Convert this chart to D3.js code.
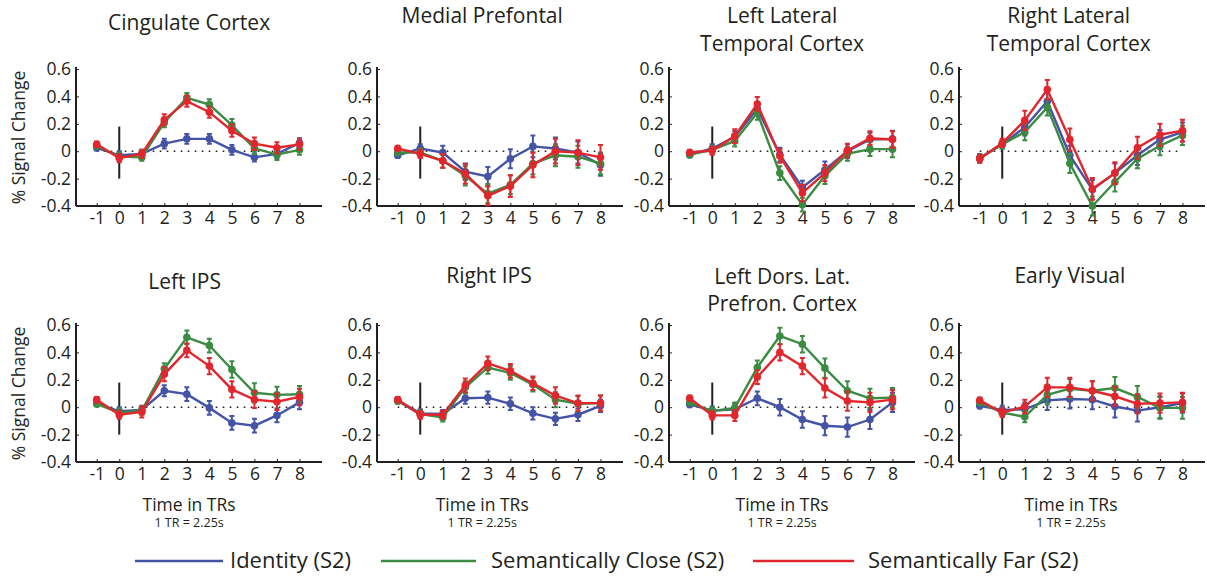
<!DOCTYPE html>
<html>
<head>
<meta charset="utf-8">
<script src="https://cdn.jsdelivr.net/npm/d3@7"></script>
<style>
  html, body { margin: 0; padding: 0; background: #fff; }
  svg { display: block; }
  text { font-family: "Open Sans", "Noto Sans", sans-serif; fill: #231f20; }
</style>
</head>
<body>
<svg id="chart" width="1207" height="580"></svg>
<script>
// Time points (in TRs) and axis ticks
const timePoints = [-1, 0, 1, 2, 3, 4, 5, 6, 7, 8];
const xTicks = [-1, 0, 1, 2, 3, 4, 5, 6, 7, 8];
const yTicks = [-0.4, -0.2, 0, 0.2, 0.4, 0.6];
const yTickLabels = ["-0.4", "-0.2", "0", "0.2", "0.4", "0.6"];

const seriesNames = ["Identity (S2)", "Semantically Close (S2)", "Semantically Far (S2)"];
const seriesColors = ["#4453a6", "#3b8b43", "#e1272d"];

// Region titles (multi-line titles split on "|")
const regionTitles = [
  "Cingulate Cortex", "Medial Prefontal", "Left Lateral|Temporal Cortex", "Right Lateral|Temporal Cortex",
  "Left IPS", "Right IPS", "Left Dors. Lat.|Prefron. Cortex", "Early Visual"
];

// % signal change per region: Identity / Close / Far, with error bars
const cingulateIdentity = [0.025, -0.03, -0.02, 0.055, 0.09, 0.09, 0.01, -0.045, -0.02, 0.06];
const cingulateClose    = [0.04, -0.04, -0.045, 0.21, 0.39, 0.34, 0.19, 0.02, -0.025, 0.01];
const cingulateFar      = [0.05, -0.05, -0.02, 0.23, 0.365, 0.285, 0.15, 0.055, 0.025, 0.05];
const cingulateIdentityErr = [0.02, 0.03, 0.03, 0.035, 0.035, 0.035, 0.035, 0.03, 0.03, 0.035];
const cingulateCloseErr    = [0.02, 0.03, 0.025, 0.035, 0.035, 0.04, 0.045, 0.04, 0.04, 0.035];
const cingulateFarErr      = [0.02, 0.03, 0.03, 0.04, 0.04, 0.04, 0.045, 0.045, 0.04, 0.04];

const medialIdentity = [-0.03, 0.02, -0.01, -0.15, -0.185, -0.055, 0.035, 0.02, -0.01, -0.1];
const medialClose    = [-0.01, -0.01, -0.07, -0.18, -0.31, -0.245, -0.09, -0.03, -0.04, -0.09];
const medialFar      = [0.02, -0.02, -0.07, -0.165, -0.325, -0.255, -0.1, 0.0, -0.01, -0.045];
const medialIdentityErr = [0.02, 0.03, 0.05, 0.06, 0.07, 0.07, 0.08, 0.08, 0.08, 0.08];
const medialCloseErr    = [0.02, 0.03, 0.05, 0.07, 0.07, 0.07, 0.08, 0.08, 0.08, 0.08];
const medialFarErr      = [0.02, 0.03, 0.05, 0.07, 0.07, 0.08, 0.09, 0.09, 0.09, 0.09];

const leftTemporalIdentity = [-0.025, 0.02, 0.105, 0.31, -0.025, -0.265, -0.135, 0.0, 0.085, 0.09];
const leftTemporalClose    = [-0.025, 0.01, 0.075, 0.28, -0.16, -0.39, -0.18, -0.02, 0.015, 0.015];
const leftTemporalFar      = [-0.01, 0.005, 0.11, 0.345, -0.035, -0.305, -0.16, 0.005, 0.095, 0.085];
const leftTemporalIdentityErr = [0.02, 0.03, 0.04, 0.05, 0.05, 0.05, 0.06, 0.05, 0.05, 0.06];
const leftTemporalCloseErr    = [0.02, 0.03, 0.04, 0.05, 0.05, 0.05, 0.06, 0.05, 0.05, 0.06];
const leftTemporalFarErr      = [0.02, 0.03, 0.05, 0.05, 0.05, 0.06, 0.06, 0.05, 0.05, 0.06];

const rightTemporalIdentity = [-0.05, 0.05, 0.175, 0.365, -0.03, -0.28, -0.16, -0.03, 0.085, 0.14];
const rightTemporalClose    = [-0.05, 0.05, 0.14, 0.32, -0.09, -0.4, -0.225, -0.055, 0.04, 0.115];
const rightTemporalFar      = [-0.055, 0.06, 0.225, 0.45, 0.085, -0.275, -0.16, 0.025, 0.12, 0.15];
const rightTemporalIdentityErr = [0.03, 0.03, 0.06, 0.06, 0.07, 0.07, 0.07, 0.07, 0.07, 0.07];
const rightTemporalCloseErr    = [0.03, 0.03, 0.06, 0.06, 0.07, 0.07, 0.07, 0.07, 0.07, 0.07];
const rightTemporalFarErr      = [0.03, 0.03, 0.07, 0.07, 0.08, 0.08, 0.08, 0.08, 0.08, 0.08];

const leftIpsIdentity = [0.03, -0.03, -0.02, 0.12, 0.095, -0.005, -0.115, -0.135, -0.06, 0.035];
const leftIpsClose    = [0.025, -0.04, -0.025, 0.28, 0.51, 0.45, 0.275, 0.105, 0.09, 0.095];
const leftIpsFar      = [0.055, -0.055, -0.035, 0.24, 0.415, 0.3, 0.13, 0.055, 0.04, 0.075];
const leftIpsIdentityErr = [0.02, 0.03, 0.03, 0.04, 0.05, 0.05, 0.05, 0.05, 0.05, 0.05];
const leftIpsCloseErr    = [0.02, 0.03, 0.03, 0.04, 0.05, 0.05, 0.06, 0.07, 0.06, 0.06];
const leftIpsFarErr      = [0.02, 0.03, 0.04, 0.05, 0.05, 0.06, 0.06, 0.06, 0.06, 0.06];

const rightIpsIdentity = [0.05, -0.045, -0.05, 0.065, 0.07, 0.025, -0.045, -0.085, -0.055, 0.01];
const rightIpsClose    = [0.045, -0.05, -0.075, 0.145, 0.29, 0.25, 0.165, 0.055, 0.025, 0.03];
const rightIpsFar      = [0.055, -0.055, -0.055, 0.16, 0.32, 0.265, 0.175, 0.085, 0.03, 0.03];
const rightIpsIdentityErr = [0.02, 0.03, 0.03, 0.04, 0.045, 0.045, 0.045, 0.045, 0.045, 0.045];
const rightIpsCloseErr    = [0.02, 0.03, 0.03, 0.045, 0.045, 0.05, 0.05, 0.055, 0.055, 0.055];
const rightIpsFarErr      = [0.02, 0.03, 0.03, 0.05, 0.05, 0.05, 0.05, 0.06, 0.055, 0.055];

const leftDlpfcIdentity = [0.02, -0.025, -0.015, 0.065, 0.0, -0.09, -0.135, -0.145, -0.09, 0.035];
const leftDlpfcClose    = [0.035, -0.03, -0.005, 0.29, 0.52, 0.46, 0.285, 0.12, 0.065, 0.07];
const leftDlpfcFar      = [0.065, -0.06, -0.06, 0.22, 0.4, 0.3, 0.14, 0.045, 0.035, 0.055];
const leftDlpfcIdentityErr = [0.02, 0.03, 0.04, 0.05, 0.06, 0.06, 0.07, 0.07, 0.07, 0.07];
const leftDlpfcCloseErr    = [0.02, 0.03, 0.04, 0.05, 0.06, 0.06, 0.07, 0.07, 0.07, 0.07];
const leftDlpfcFarErr      = [0.02, 0.03, 0.04, 0.05, 0.06, 0.06, 0.07, 0.07, 0.07, 0.07];

const earlyVisualIdentity = [0.01, -0.02, -0.015, 0.05, 0.06, 0.055, 0.005, -0.025, 0.0, 0.03];
const earlyVisualClose    = [0.035, -0.04, -0.07, 0.09, 0.135, 0.12, 0.14, 0.075, -0.005, -0.005];
const earlyVisualFar      = [0.05, -0.04, 0.005, 0.145, 0.145, 0.12, 0.08, 0.025, 0.03, 0.035];
const earlyVisualIdentityErr = [0.02, 0.03, 0.05, 0.07, 0.07, 0.07, 0.08, 0.08, 0.08, 0.07];
const earlyVisualCloseErr    = [0.02, 0.03, 0.04, 0.07, 0.07, 0.07, 0.08, 0.08, 0.08, 0.08];
const earlyVisualFarErr      = [0.02, 0.03, 0.05, 0.07, 0.07, 0.07, 0.07, 0.07, 0.07, 0.07];

const panelValues = [
  [cingulateIdentity, cingulateClose, cingulateFar],
  [medialIdentity, medialClose, medialFar],
  [leftTemporalIdentity, leftTemporalClose, leftTemporalFar],
  [rightTemporalIdentity, rightTemporalClose, rightTemporalFar],
  [leftIpsIdentity, leftIpsClose, leftIpsFar],
  [rightIpsIdentity, rightIpsClose, rightIpsFar],
  [leftDlpfcIdentity, leftDlpfcClose, leftDlpfcFar],
  [earlyVisualIdentity, earlyVisualClose, earlyVisualFar]
];
const panelErrors = [
  [cingulateIdentityErr, cingulateCloseErr, cingulateFarErr],
  [medialIdentityErr, medialCloseErr, medialFarErr],
  [leftTemporalIdentityErr, leftTemporalCloseErr, leftTemporalFarErr],
  [rightTemporalIdentityErr, rightTemporalCloseErr, rightTemporalFarErr],
  [leftIpsIdentityErr, leftIpsCloseErr, leftIpsFarErr],
  [rightIpsIdentityErr, rightIpsCloseErr, rightIpsFarErr],
  [leftDlpfcIdentityErr, leftDlpfcCloseErr, leftDlpfcFarErr],
  [earlyVisualIdentityErr, earlyVisualCloseErr, earlyVisualFarErr]
];

// ---- layout ----
const colLeft = [76, 377, 669, 959];
const rowTop = [69, 325];          // y of 0.6
const plotW = 246, plotH = 137;
const titleCenters = [[23], [16], [16, 44], [16, 44], [282], [276], [277, 304], [276]];
const titleAnchorT = [3.1, 2.75, 3.1, 2.95, 2.9, 3.05, 3.1, 3.0];   // horizontal anchor, in TR units
const captionAnchorT = [3.1, 2.75, 3.1, 3.05];

const svg = d3.select("#chart");
const ink = "#231f20";
const tickFont = "17.5px";

regionTitles.forEach((title, i) => {
  const col = i % 4, row = Math.floor(i / 4);
  const x0 = colLeft[col], y0 = rowTop[row];
  const x = d3.scaleLinear().domain([-1.92, 9]).range([x0, x0 + plotW]);
  const y = d3.scaleLinear().domain([-0.4, 0.6]).range([y0 + plotH, y0]);
  const g = svg.append("g");

  // title
  title.split("|").forEach((line, k) => {
    g.append("text")
      .attr("x", x(titleAnchorT[i])).attr("y", titleCenters[i][k])
      .attr("dy", "0.35em")
      .attr("text-anchor", "middle")
      .style("font-size", "21px")
      .text(line);
  });

  // y axis
  const yAxis = d3.axisLeft(y).tickValues(yTicks)
    .tickFormat((d, k) => yTickLabels[k]).tickSizeInner(-3).tickSizeOuter(0).tickPadding(5);
  const ya = g.append("g").attr("transform", `translate(${x0},0)`).call(yAxis);
  ya.select(".domain").attr("stroke", ink).attr("stroke-width", 2)
    .attr("d", `M0,${y(0.6) - 2}V${y(-0.4)}`);
  ya.selectAll(".tick line").attr("stroke", ink).attr("stroke-width", 1);
  ya.selectAll(".tick text").style("font-size", tickFont).style("font-family", "'Open Sans', sans-serif").attr("fill", ink);

  // x axis
  const xAxis = d3.axisBottom(x).tickValues(xTicks)
    .tickFormat(d => String(d)).tickSizeInner(-3).tickSizeOuter(0).tickPadding(6);
  const xa = g.append("g").attr("transform", `translate(0,${y(-0.4)})`).call(xAxis);
  xa.select(".domain").attr("stroke", ink).attr("stroke-width", 2)
    .attr("d", `M${x0},0H${x0 + plotW}`);
  xa.selectAll(".tick line").attr("stroke", ink).attr("stroke-width", 1);
  xa.selectAll(".tick text").style("font-size", tickFont).style("font-family", "'Open Sans', sans-serif").attr("fill", ink);

  // dotted zero line
  g.append("line")
    .attr("x1", x(-1)).attr("x2", x(8))
    .attr("y1", y(0)).attr("y2", y(0))
    .attr("stroke", ink).attr("stroke-width", 1.6)
    .attr("stroke-dasharray", "1.6,5.4");

  // stimulus onset marker
  g.append("line")
    .attr("x1", x(0)).attr("x2", x(0))
    .attr("y1", y(-0.2)).attr("y2", y(0.18))
    .attr("stroke", ink).attr("stroke-width", 2);

  // series
  const line = d3.line().x((d, k) => x(timePoints[k])).y(d => y(d));
  panelValues[i].forEach((vals, s) => {
    const color = seriesColors[s];
    const errs = panelErrors[i][s];
    const sg = g.append("g");
    sg.append("path").datum(vals)
      .attr("d", line).attr("fill", "none")
      .attr("stroke", color).attr("stroke-width", 2.4);
    const pts = vals.map((v, k) => ({ t: timePoints[k], v, e: errs[k] }));
    sg.selectAll(".eb").data(pts).join("path")
      .attr("d", d => {
        const cx = x(d.t), lo = y(d.v - d.e), hi = y(d.v + d.e);
        return `M${cx},${lo}V${hi}M${cx - 2.5},${lo}H${cx + 2.5}M${cx - 2.5},${hi}H${cx + 2.5}`;
      })
      .attr("fill", "none").attr("stroke", color).attr("stroke-width", 2);
    sg.selectAll("circle").data(pts).join("circle")
      .attr("cx", d => x(d.t)).attr("cy", d => y(d.v)).attr("r", 3.8)
      .attr("fill", color);
  });

  // y-axis title on the first column
  if (col === 0) {
    g.append("text")
      .attr("transform", `translate(19,${y(0.1)}) rotate(-90)`)
      .attr("dy", "0.35em")
      .attr("text-anchor", "middle")
      .style("font-size", "17.5px")
      .text("% Signal Change");
  }

  // time axis caption on the bottom row
  if (row === 1) {
    const cx = x(captionAnchorT[col]);
    g.append("text")
      .attr("x", cx).attr("y", 505).attr("dy", "0.35em")
      .attr("text-anchor", "middle").style("font-size", "17.5px")
      .text("Time in TRs");
    g.append("text")
      .attr("x", cx).attr("y", 523).attr("dy", "0.35em")
      .attr("text-anchor", "middle").style("font-size", "12.5px")
      .text("1 TR = 2.25s");
  }
});

// legend
const legendLineStart = [135, 381, 753];
const legendLineEnd = [223, 476, 854];
const legendTextX = [230, 491, 868];
const legend = svg.append("g");
seriesNames.forEach((name, s) => {
  legend.append("line")
    .attr("x1", legendLineStart[s]).attr("x2", legendLineEnd[s])
    .attr("y1", 561).attr("y2", 561)
    .attr("stroke", seriesColors[s]).attr("stroke-width", 2.4);
  legend.append("text")
    .attr("x", legendTextX[s]).attr("y", 560).attr("dy", "0.35em")
    .style("font-size", "22px")
    .text(name);
});
</script>
</body>
</html>
